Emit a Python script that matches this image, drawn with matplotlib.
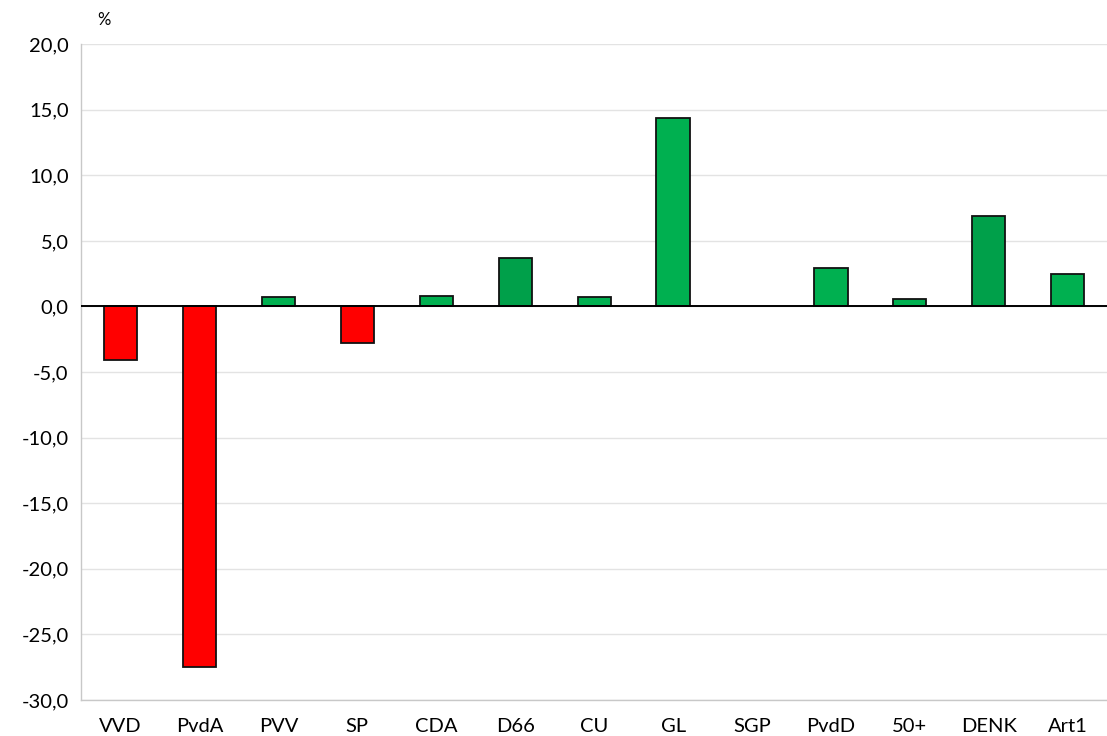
import matplotlib
matplotlib.use("Agg")
import matplotlib.pyplot as plt
from matplotlib.ticker import FuncFormatter

parties = ["VVD", "PvdA", "PVV", "SP", "CDA", "D66", "CU", "GL", "SGP", "PvdD", "50+", "DENK", "Art1"]
change = [-4.1, -27.5, 0.7, -2.8, 0.8, 3.7, 0.7, 14.4, 0.0, 2.9, 0.6, 6.9, 2.5]
colors = ["#FF0000", "#FF0000", "#00B050", "#FF0000", "#00B050", "#00A04A", "#00B050",
          "#00B050", "#00B050", "#00B050", "#00B050", "#00A04A", "#00B050"]

plt.rcParams["font.family"] = ["Lato", "DejaVu Sans"]

fig = plt.figure(figsize=(11.07, 7.36), dpi=100)
ax = fig.add_axes([0.0732, 0.049, 0.927, 0.891])

x = list(range(len(parties)))
for i, v in enumerate(change):
    if v != 0:
        ax.bar(i, v, width=0.42, color=colors[i], edgecolor="#111111", linewidth=1.3, zorder=3)

ax.axhline(0, color="black", linewidth=1.4, zorder=4)
ax.set_xlim(-0.5, len(parties) - 0.5)
ax.set_ylim(-30, 20)
ax.set_yticks(range(-30, 21, 5))
ax.yaxis.set_major_formatter(FuncFormatter(lambda v, p: f"{v:.1f}".replace(".", ",")))
ax.set_xticks(x)
ax.set_xticklabels(parties)
ax.grid(axis="y", color="#e3e3e3", linewidth=1, zorder=0)
ax.tick_params(axis="both", length=0, labelsize=14.5, colors="black")
ax.tick_params(axis="x", pad=13)
ax.tick_params(axis="y", pad=9)
for s in ["top", "right"]:
    ax.spines[s].set_visible(False)
for s in ["left", "bottom"]:
    ax.spines[s].set_color("#c8c8c8")
    ax.spines[s].set_linewidth(1)

fig.text(0.088, 0.973, "%", fontsize=12, ha="left", va="center")

fig.savefig("out.png", dpi=100)
